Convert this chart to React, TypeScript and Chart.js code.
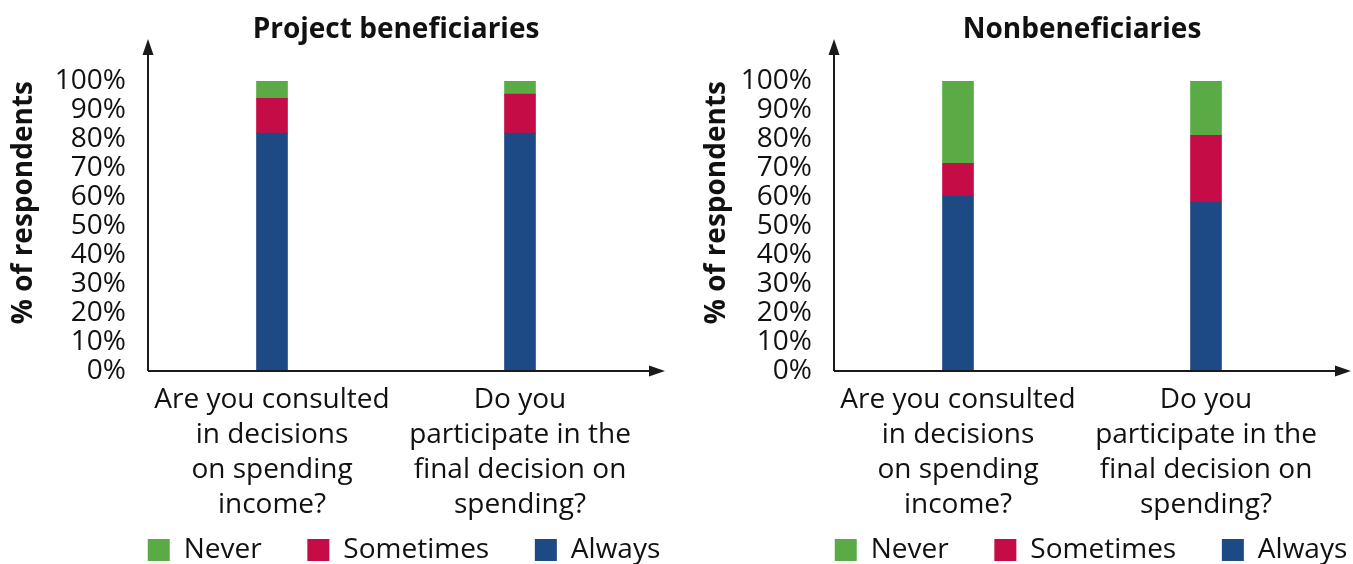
import React, { useEffect, useRef } from "react";
import { Chart, registerables } from "chart.js";

Chart.register(...registerables);

const categories: string[][] = [
  ["Are you consulted", "in decisions", "on spending", "income?"],
  ["Do you", "participate in the", "final decision on", "spending?"],
];
const seriesNames = ["Always", "Sometimes", "Never"];
const seriesColors = ["#1D4A85", "#C60C46", "#5AAB46"];

const beneficiariesAlways = [82, 82];
const beneficiariesSometimes = [12, 13.5];
const beneficiariesNever = [6, 4.5];

const nonbeneficiariesAlways = [60.3, 58.2];
const nonbeneficiariesSometimes = [11.3, 23.1];
const nonbeneficiariesNever = [28.4, 18.7];

const yTicks = [0, 10, 20, 30, 40, 50, 60, 70, 80, 90, 100];

const FONT = "'Open Sans', 'Noto Sans', sans-serif";

const arrowPlugin = {
  id: "axisArrows",
  afterDraw(chart: any) {
    const { ctx, chartArea } = chart;
    const { left, right, top, bottom } = chartArea;
    ctx.save();
    ctx.strokeStyle = "#1a1a1a";
    ctx.fillStyle = "#1a1a1a";
    ctx.lineWidth = 2;
    const yTip = top - 42;
    const xTip = right + 21;
    ctx.beginPath();
    ctx.moveTo(left, bottom);
    ctx.lineTo(left, yTip + 14);
    ctx.moveTo(left, bottom);
    ctx.lineTo(xTip - 14, bottom);
    ctx.stroke();
    ctx.beginPath();
    ctx.moveTo(left, yTip);
    ctx.lineTo(left - 5.5, yTip + 16);
    ctx.lineTo(left + 5.5, yTip + 16);
    ctx.closePath();
    ctx.fill();
    ctx.beginPath();
    ctx.moveTo(xTip, bottom);
    ctx.lineTo(xTip - 16, bottom - 5.5);
    ctx.lineTo(xTip - 16, bottom + 5.5);
    ctx.closePath();
    ctx.fill();
    ctx.restore();
  },
};

function makeConfig(
  title: string,
  always: number[],
  sometimes: number[],
  never: number[],
  rightSpace: number,
  yTitlePad: number
): any {
  const values = [always, sometimes, never];
  return {
    type: "bar",
    data: {
      labels: categories,
      datasets: seriesNames.map((name, i) => ({
        label: name,
        data: values[i],
        backgroundColor: seriesColors[i],
        borderWidth: 0,
        barThickness: 31,
        yAxisID: "y",
      })),
    },
    options: {
      responsive: false,
      animation: false,
      devicePixelRatio: 1,
      layout: { padding: { left: 0, right: 0, top: 0, bottom: -10 } },
      plugins: {
        tooltip: { enabled: false },
        title: {
          display: true,
          text: title,
          fullSize: false,
          color: "#111",
          font: { family: FONT, size: 28, weight: "bold", lineHeight: 1.2 },
          padding: { top: 13, bottom: 34.4 },
        },
        legend: {
          display: true,
          position: "bottom",
          fullSize: true,
          reverse: true,
          labels: {
            color: "#111",
            boxWidth: 22,
            boxHeight: 22,
            padding: 2,
            font: { family: FONT, size: 28 },
            generateLabels: (chart: any) => {
              const items = Chart.defaults.plugins.legend.labels.generateLabels(chart);
              return items.map((it: any) => {
                if (it.datasetIndex !== 0) it.text = it.text + "      ";
                it.lineWidth = 0;
                return it;
              });
            },
          },
        },
      },
      scales: {
        x: {
          stacked: true,
          grid: { display: false, drawTicks: false },
          border: { display: false },
          ticks: {
            color: "#111",
            font: { family: FONT, size: 28, lineHeight: 1.25 },
            padding: 12,
            maxRotation: 0,
            minRotation: 0,
            autoSkip: false,
          },
          afterFit: (s: any) => {
            s.height = 163;
          },
        },
        y: {
          stacked: true,
          position: "left",
          min: 0,
          max: 100,
          grid: { display: false, drawTicks: false },
          border: { display: false },
          afterBuildTicks: (s: any) => {
            s.ticks = yTicks.map((v) => ({ value: v }));
          },
          ticks: {
            color: "#111",
            font: { family: FONT, size: 28, lineHeight: 1.0 },
            padding: 22,
            autoSkip: false,
            callback: (v: any) => v + "%",
          },
          title: {
            display: true,
            text: "% of respondents",
            align: "end",
            color: "#111",
            font: { family: FONT, size: 28, weight: "bold", lineHeight: 1.2 },
            padding: { top: yTitlePad, bottom: 0 },
          },
          afterFit: (s: any) => {
            s.width = 148;
          },
        },
        spacer: {
          type: "linear",
          position: "right",
          display: true,
          grid: { display: false, drawTicks: false },
          border: { display: false },
          ticks: { display: false },
          afterFit: (s: any) => {
            s.width = rightSpace;
          },
        },
      },
    },
    plugins: [arrowPlugin],
  };
}

function BarPanel(props: {
  title: string;
  always: number[];
  sometimes: number[];
  never: number[];
  width: number;
  left: number;
  rightSpace: number;
  yTitlePad: number;
}) {
  const ref = useRef<HTMLCanvasElement | null>(null);
  useEffect(() => {
    if (!ref.current) return;
    const chart = new Chart(
      ref.current,
      makeConfig(props.title, props.always, props.sometimes, props.never, props.rightSpace, props.yTitlePad)
    );
    return () => chart.destroy();
  }, []);
  return (
    <canvas
      ref={ref}
      width={props.width}
      height={564}
      style={{ position: "absolute", left: props.left, top: 0, width: props.width, height: 564 }}
    />
  );
}

export default function App() {
  return (
    <div
      style={{
        position: "fixed",
        left: 0,
        top: 0,
        width: 1353,
        height: 564,
        background: "#ffffff",
        overflow: "hidden",
      }}
    >
      <BarPanel
        title="Project beneficiaries"
        always={beneficiariesAlways}
        sometimes={beneficiariesSometimes}
        never={beneficiariesNever}
        width={808}
        left={0}
        rightSpace={164}
        yTitlePad={7}
      />
      <BarPanel
        title="Nonbeneficiaries"
        always={nonbeneficiariesAlways}
        sometimes={nonbeneficiariesSometimes}
        never={nonbeneficiariesNever}
        width={810}
        left={686}
        rightSpace={166}
        yTitlePad={14}
      />
    </div>
  );
}
